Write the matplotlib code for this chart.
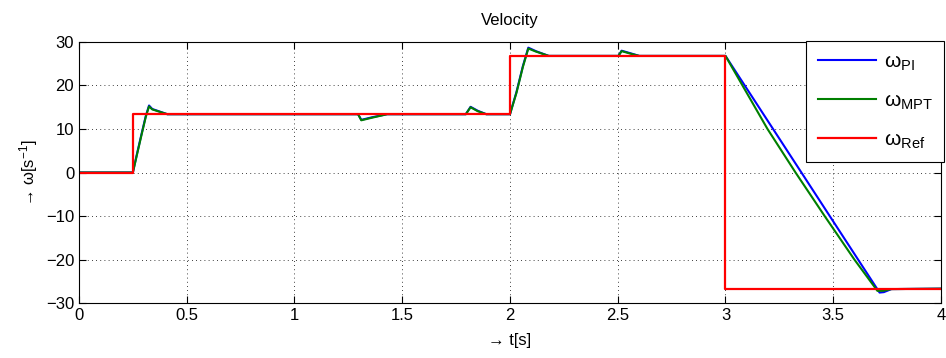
import matplotlib
matplotlib.use("Agg")
import matplotlib.pyplot as plt

plt.rcParams['font.family'] = ['Liberation Sans', 'DejaVu Sans']
plt.rcParams['mathtext.fontset'] = 'custom'
plt.rcParams['mathtext.rm'] = 'Liberation Sans'
plt.rcParams['mathtext.it'] = 'Liberation Sans'
plt.rcParams['font.size'] = 12

# reference speed (step changes)
t_ref = [0, 0.25, 0.25, 2.0, 2.0, 3.0, 3.0, 4.0]
w_ref = [0, 0, 13.4, 13.4, 26.8, 26.8, -26.7, -26.7]

# PI controller response
t_pi = [0, 0.25, 0.27, 0.29, 0.31, 0.325, 0.34, 0.41, 1.295, 1.31, 1.36, 1.43,
        1.795, 1.817, 1.85, 1.89, 2.0, 2.03, 2.06, 2.085, 2.12, 2.18, 2.503,
        2.518, 2.56, 2.6, 3.0, 3.715, 3.735, 3.77, 4.0]
w_pi = [0, 0, 4.5, 8.8, 13.0, 15.4, 14.6, 13.4, 13.4, 12.1, 12.7, 13.4,
        13.4, 15.1, 14.2, 13.4, 13.4, 18.5, 24.5, 28.7, 27.9, 26.8, 26.8,
        28.0, 27.4, 26.8, 26.8, -27.6, -27.5, -26.8, -26.7]

# MPT controller response
t_mpt = [0, 0.25, 0.27, 0.29, 0.31, 0.325, 0.34, 0.41, 1.295, 1.31, 1.36, 1.43,
         1.795, 1.817, 1.85, 1.89, 2.0, 2.03, 2.06, 2.085, 2.12, 2.18, 2.503,
         2.518, 2.56, 2.6, 3.0, 3.195, 3.325, 3.46, 3.598, 3.705, 3.73,
         3.77, 4.0]
w_mpt = [0, 0, 4.3, 8.6, 12.8, 15.2, 14.5, 13.4, 13.4, 12.0, 12.6, 13.4,
         13.4, 15.0, 14.1, 13.4, 13.4, 18.3, 24.3, 28.5, 27.8, 26.8, 26.8,
         27.9, 27.3, 26.8, 26.8, 10.0, 0.0, -10.0, -20.0, -27.2, -27.2,
         -26.8, -26.7]

fig = plt.figure(figsize=(9.46, 3.58), dpi=100)
ax = fig.add_axes([0.0835, 0.1536, 0.9112, 0.7291])

ax.plot(t_pi, w_pi, color='#0000ff', lw=1.5, label=r'$\mathregular{\omega_{PI}}$')
ax.plot(t_mpt, w_mpt, color='#007f00', lw=1.5, label=r'$\mathregular{\omega_{MPT}}$')
ax.plot(t_ref, w_ref, color='#ff0000', lw=1.6, label=r'$\mathregular{\omega_{Ref}}$')

ax.set_xlim(0, 4)
ax.set_ylim(-30, 30)
ax.set_xticks([0, 0.5, 1, 1.5, 2, 2.5, 3, 3.5, 4])
ax.set_xticklabels(['0', '0.5', '1', '1.5', '2', '2.5', '3', '3.5', '4'])
ax.set_yticks([-30, -20, -10, 0, 10, 20, 30])
ax.grid(True, color='black', linestyle=(0, (1, 4)), linewidth=0.6)
ax.tick_params(direction='in', top=True, right=True, length=5, labelsize=12)

ax.set_title('Velocity', fontsize=12, pad=12)
ax.set_xlabel('→ t[s]', labelpad=7)
ax.set_ylabel(r'→ ω[s$^{\mathregular{-1}}$]', labelpad=4)

leg = ax.legend(loc='upper right', bbox_to_anchor=(1.0035, 1.004),
                borderaxespad=0, fancybox=False, edgecolor='black',
                framealpha=1, handlelength=2.8, handletextpad=0.35,
                labelspacing=0.9, borderpad=0.55, fontsize=15)
leg.get_frame().set_linewidth(0.8)

fig.savefig('out.png', dpi=100)
